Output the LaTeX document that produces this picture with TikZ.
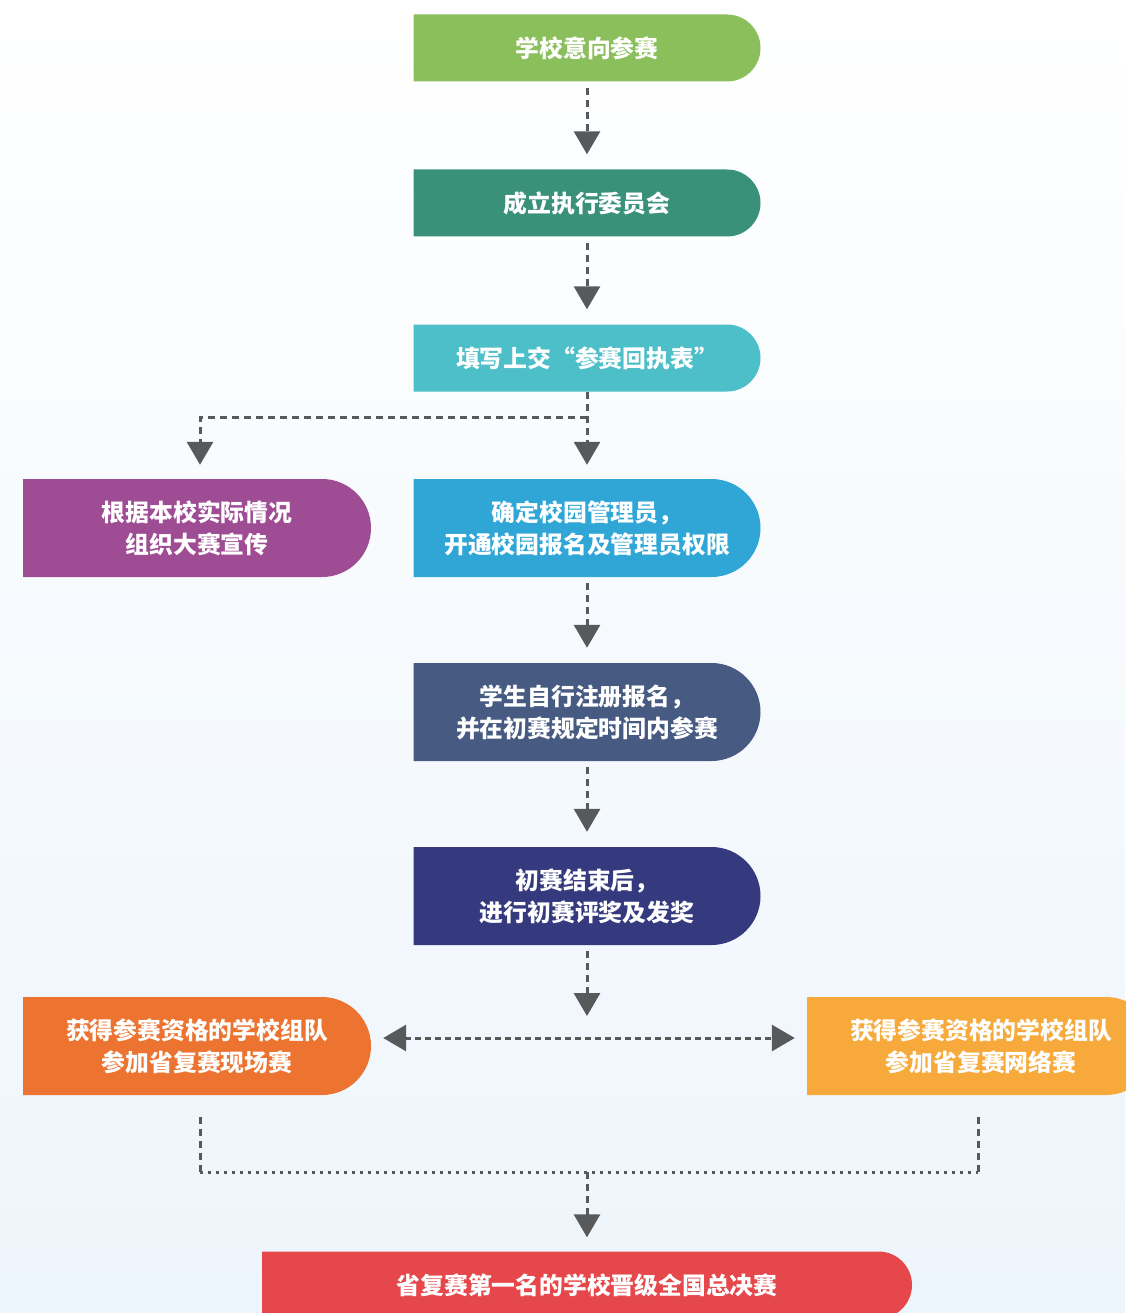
\documentclass[tikz,border=0pt]{standalone}
\usepackage{fontspec}
\newfontfamily\cjk{Noto Sans CJK SC}
\usetikzlibrary{arrows.meta}
\definecolor{bgblue}{RGB}{237,245,252}
\definecolor{arrowgray}{RGB}{88,89,91}
\definecolor{cgreen}{RGB}{139,191,92}
\definecolor{cteal}{RGB}{58,145,122}
\definecolor{ccyan}{RGB}{77,191,201}
\definecolor{cpurple}{RGB}{158,76,147}
\definecolor{cblue}{RGB}{48,166,215}
\definecolor{cslate}{RGB}{71,91,130}
\definecolor{cnavy}{RGB}{53,58,127}
\definecolor{corange}{RGB}{236,116,48}
\definecolor{cyellow}{RGB}{247,170,59}
\definecolor{cred}{RGB}{230,71,75}
\tikzset{
	stage/.style n args={3}{minimum width=#1, minimum height=#2, inner sep=0pt, align=center, text=white,
		font=\cjk\bfseries\fontsize{23.8}{32}\selectfont,
		path picture={\fill[#3] (path picture bounding box.south west) -- (path picture bounding box.north west)
			[rounded corners=#2/2] -- (path picture bounding box.north east) -- (path picture bounding box.south east) [sharp corners] -- cycle;}},
	flow/.style={draw=arrowgray, line width=3pt, dash pattern=on 7pt off 5pt},
	>={Triangle[width=26pt,length=23pt]},
}
\begin{document}
\begin{tikzpicture}[x=1pt, y=-1pt]
	\useasboundingbox (0,0) rectangle (1125,1313);
	\shade[top color=white, bottom color=bgblue] (0,0) rectangle (1125,1313);
	% stages
	\node[stage={347pt}{67pt}{cgreen}] (s1) at (587,48) {学校意向参赛};
	\node[stage={347pt}{67pt}{cteal}] (s2) at (587,203) {成立执行委员会};
	\node[stage={347pt}{67pt}{ccyan}] (s3) at (587,358) {填写上交“参赛回执表”};
	\node[stage={348pt}{98pt}{cpurple}] (s4) at (197,528) {根据本校实际情况\\组织大赛宣传};
	\node[stage={347pt}{98pt}{cblue}] (s5) at (587,528) {确定校园管理员，\\开通校园报名及管理员权限};
	\node[stage={347pt}{98pt}{cslate}] (s6) at (587,712) {学生自行注册报名，\\并在初赛规定时间内参赛};
	\node[stage={347pt}{98pt}{cnavy}] (s7) at (587,896) {初赛结束后，\\进行初赛评奖及发奖};
	\node[stage={348pt}{98pt}{corange}] (s8) at (197,1046) {获得参赛资格的学校组队\\参加省复赛现场赛};
	\node[stage={348pt}{98pt}{cyellow}] (s9) at (981,1046) {获得参赛资格的学校组队\\参加省复赛网络赛};
	\node[stage={650pt}{67pt}{cred}] (s10) at (587,1285) {省复赛第一名的学校晋级全国总决赛};
	% connectors
	\draw[flow, ->, shorten <=6pt, shorten >=15pt] (s1) -- (s2);
	\draw[flow, ->, shorten <=6pt, shorten >=15pt] (s2) -- (s3);
	\draw[flow, ->, shorten >=14pt] (s3) -- (s5);
	\draw[flow, ->, shorten >=14pt] ([yshift=-26pt]s3.south) -| ([xshift=3pt]s4.north);
	\draw[flow, ->, shorten <=6pt, shorten >=15pt] (s5) -- (s6);
	\draw[flow, ->, shorten <=6pt, shorten >=15pt] (s6) -- (s7);
	\coordinate (split) at (587,1016);
	\draw[flow, ->, shorten <=6pt] (s7.south) -- (split);
	\draw[flow, <->, dash pattern=on 6pt off 4pt] ([xshift=12pt,yshift=8pt]s8.east) -- ([xshift=-12pt,yshift=8pt]s9.west);
	\coordinate (jl) at (200,1172);
	\coordinate (jr) at (978,1172);
	\draw[flow] ([xshift=3pt,yshift=-22pt]s8.south) -- (jl);
	\draw[flow] ([xshift=-3pt,yshift=-22pt]s9.south) -- (jr);
	\draw[flow, dash pattern=on 3pt off 5pt] (jl) -- (jr);
	\draw[flow, ->, shorten >=14pt] (jl -| s10) -- (s10);
\end{tikzpicture}
\end{document}
